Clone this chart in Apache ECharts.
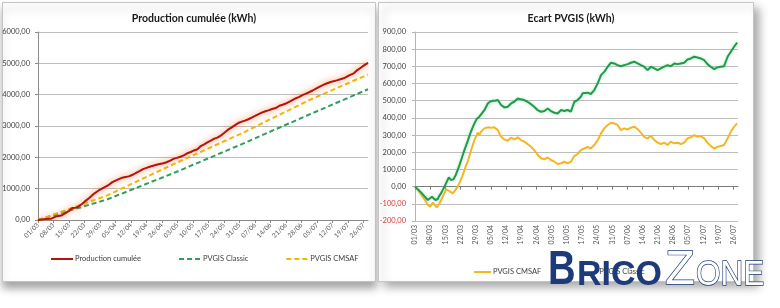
<!DOCTYPE html>
<html><head><meta charset="utf-8">
<script src="https://cdn.jsdelivr.net/npm/echarts@6/dist/echarts.min.js"></script>
<style>html,body{margin:0;padding:0;background:#fff}#c{width:780px;height:308px}</style>
</head><body><div id="c"></div>
<script>
// Day index 0 = 01/03, 149 = 28/07
const tickLabels = ['01/03','08/03','15/03','22/03','29/03','05/04','12/04','19/04','26/04','03/05','10/05','17/05','24/05','31/05','07/06','14/06','21/06','28/06','05/07','12/07','19/07','26/07'];

// Left chart: cumulative production [day, kWh]
const production = [[0,0],[3,28],[6,41],[8,110],[10.5,142],[12,203],[14,294],[15.5,383],[17,394],[18,413],[20,517],[21.3,602],[23,696],[25,825],[27.4,943],[29.7,1031],[32,1124],[33.6,1208],[36,1291],[38,1351],[40,1378],[41,1392],[43,1452],[44.3,1507],[46,1565],[47.4,1623],[49,1663],[50.4,1698],[52,1733],[53.5,1761],[55,1788],[56.6,1813],[58,1843],[59.7,1895],[61.2,1952],[62.7,1982],[64.3,2020],[65.8,2061],[67.4,2129],[69,2171],[70.4,2219],[72,2257],[73.5,2360],[75,2415],[76.5,2479],[78,2534],[79.6,2596],[81,2630],[82.7,2704],[84.3,2791],[85.8,2884],[87.3,2948],[89,3029],[90.4,3094],[92,3138],[93.4,3171],[95,3215],[96.5,3268],[98,3320],[99.6,3378],[101,3427],[102.7,3470],[104,3500],[105.7,3544],[107.3,3573],[109,3646],[110.4,3679],[112,3719],[113.4,3772],[115,3832],[116.5,3887],[118,3928],[119.6,3994],[121,4033],[122.6,4086],[124,4133],[125.7,4204],[127,4250],[128.8,4314],[130,4347],[131.8,4396],[133,4423],[134.9,4457],[136.5,4491],[138,4523],[139.5,4579],[141,4629],[142.6,4680],[144.2,4784],[145.7,4859],[147.2,4934],[149,5012]];
const pvgisClassic = [[0,0],[31,651],[61,1491],[92,2421],[122,3351],[149,4174]];
const pvgisCmsaf = [[0,0],[31,776],[61,1776],[92,2766],[122,3811],[149,4644]];

// Right chart: gap to PVGIS [day, kWh]
const ecartClassic = [[0,0],[1.5,-18],[2.9,-35],[4.4,-57],[5.9,-78],[6.5,-88],[7.8,-59],[9.4,-78],[10.5,-72],[11.3,-52],[12.2,-35],[13.6,0],[14.7,30],[15.6,54],[16.7,38],[17.7,42],[18.8,68],[19.7,97],[20.5,125],[21.3,155],[22.8,213],[24.3,265],[25.8,320],[27.4,368],[28.5,395],[29.7,407],[30.4,416],[32,445],[33.6,484],[34.7,495],[35.9,500],[37,500],[38.2,504],[39.7,475],[41.2,461],[42.8,465],[44.3,484],[45.8,494],[47.4,513],[48.9,508],[50.4,504],[51.9,494],[53.5,480],[55,465],[56.6,445],[58.1,436],[59.7,440],[61.2,455],[62.7,440],[64.3,430],[65.8,426],[67.4,446],[68.9,440],[70.4,446],[71.9,436],[73.5,494],[75,504],[76.5,523],[77.3,543],[78,533],[79.6,547],[81.1,539],[82.7,562],[84.3,601],[85.8,649],[87.3,668],[88.9,698],[90.4,721],[91.9,717],[92.6,727],[93.4,707],[95,701],[96.5,707],[98.1,713],[99.6,721],[101.1,727],[102.7,717],[104.2,707],[105.7,698],[107.3,678],[108.8,698],[110.4,688],[111.9,678],[113.4,688],[115,698],[116.5,707],[118,701],[119.6,717],[121.1,713],[122.6,717],[124.2,721],[125.7,740],[127.2,746],[128.8,756],[130.3,752],[131.8,746],[133.4,736],[134.9,713],[136.4,698],[138,684],[139.5,694],[141,698],[142.6,701],[144.2,756],[145.7,785],[147.2,814],[148.6,838]];
const ecartCmsaf = [[0,0],[1.5,-22],[2.9,-48],[4.4,-75],[5.9,-105],[7,-117],[8.2,-93],[9.2,-108],[10,-121],[11.2,-100],[12.1,-78],[13.3,-45],[14.4,-16],[15.2,-14],[15.9,-26],[17.4,-39],[18.5,-22],[19.7,0],[21,35],[22,67],[23.6,125],[24.3,145],[25.9,213],[27.4,271],[28.9,314],[29.7,300],[30.4,320],[32,339],[33.6,345],[35.1,343],[36.6,345],[38.2,329],[39.7,290],[41.2,275],[42.8,267],[44.3,285],[45.8,275],[47.4,287],[48.9,271],[50.4,262],[51.9,248],[53.5,232],[55,213],[56.6,184],[58.1,165],[59.7,159],[61.2,170],[62.7,155],[64.3,145],[65.8,132],[67.4,136],[68.9,145],[70.4,136],[71.9,145],[73.5,178],[75,190],[76.5,213],[78,222],[79.6,232],[81.1,222],[82.7,242],[84.3,271],[85.8,310],[87.3,339],[88.9,359],[90.4,372],[91.9,368],[92.6,372],[93.4,359],[95,329],[96.5,339],[98.1,333],[99.6,343],[101.1,349],[102.7,335],[104.2,314],[105.7,290],[107.3,281],[108.8,295],[110.4,271],[111.9,256],[113.4,248],[115,256],[116.5,242],[118,262],[119.6,252],[121.1,256],[122.6,248],[124.2,256],[125.7,281],[127.2,287],[128.8,300],[130.3,290],[131.8,295],[133.4,281],[134.9,256],[136.4,237],[138,222],[139.5,232],[141,237],[142.6,242],[144.2,281],[145.7,320],[147.2,349],[148.6,368]];

const tickDays = tickLabels.map((_, i) => i * 7);
const FONT = 'Lato, "Liberation Sans", sans-serif';
const fmtNum = v => Number(v).toFixed(2).replace('.', ',');
const fmtDay = v => { const i = Math.round(v / 7); return (i * 7 === Math.round(v) && tickLabels[i]) ? tickLabels[i] : ''; };
const gridColor = '#bdbdbd';
const axisColor = '#8a8a8a';
const NAVY = '#1d3b7a';
const noSymbol = {color: 'rgba(0,0,0,0)', borderWidth: 0, opacity: 0};

const chart = echarts.init(document.getElementById('c'), null, {renderer: 'canvas'});
chart.setOption({
  animation: false,
  backgroundColor: '#ffffff',
  title: [
    {text: 'Production cumulée (kWh)', left: 189, top: 8, textAlign: 'center',
     textStyle: {fontFamily: FONT, fontSize: 10.5, fontWeight: 'bold', color: '#1a1a1a'}},
    {text: 'Ecart PVGIS (kWh)', left: 566, top: 8, textAlign: 'center',
     textStyle: {fontFamily: FONT, fontSize: 10.5, fontWeight: 'bold', color: '#1a1a1a'}}
  ],
  legend: [
    {left: 45, top: 250, itemWidth: 22, itemHeight: 8, itemGap: 37, itemStyle: noSymbol,
     data: ['Production cumulée', 'PVGIS Classic', 'PVGIS CMSAF'],
     textStyle: {fontFamily: FONT, fontSize: 7.5, color: '#404040', padding: [0,0,0,-3]}},
    {left: 468, top: 263, itemWidth: 17, itemHeight: 8, itemGap: 38, itemStyle: noSymbol,
     data: ['PVGIS CMSAF\u200b', 'PVGIS Classic\u200b'],
     textStyle: {fontFamily: FONT, fontSize: 7.5, color: '#404040', padding: [0,0,0,-3]}}
  ],
  grid: [
    {left: 38, right: 412, top: 32, bottom: 88, outerBoundsMode: 'none', containLabel: false},
    {left: 415, right: 42, top: 32, bottom: 87, outerBoundsMode: 'none', containLabel: false}
  ],
  xAxis: [
    {gridIndex: 0, type: 'value', min: 0, max: 149,
     axisLine: {onZero: true, lineStyle: {color: axisColor}},
     axisTick: {customValues: tickDays, length: 3, lineStyle: {color: axisColor}},
     axisLabel: {customValues: tickDays, rotate: 45, margin: 4, fontSize: 6.5, fontFamily: FONT, color: '#595959', formatter: fmtDay},
     splitLine: {show: false}},
    {gridIndex: 1, type: 'value', min: 0, max: 149, position: 'bottom',
     axisLine: {onZero: true, lineStyle: {color: '#7a7a7a'}},
     axisTick: {customValues: tickDays, length: 3, inside: false, lineStyle: {color: '#7a7a7a'}},
     axisLabel: {show: false}, splitLine: {show: false}},
    {gridIndex: 1, type: 'value', min: 0, max: 149, position: 'bottom',
     axisLine: {show: false, onZero: false}, axisTick: {show: false},
     axisLabel: {customValues: tickDays, rotate: 90, margin: 4, fontSize: 7, fontFamily: FONT, color: '#595959', formatter: fmtDay},
     splitLine: {show: false}}
  ],
  yAxis: [
    {gridIndex: 0, type: 'value', min: 0, max: 6000, interval: 1000,
     axisLine: {show: true, lineStyle: {color: axisColor}},
     axisTick: {show: true, length: 3, lineStyle: {color: axisColor}},
     axisLabel: {margin: 8, fontSize: 7.5, fontFamily: FONT, color: '#404040', formatter: fmtNum},
     splitLine: {lineStyle: {color: gridColor, width: 1}}},
    {gridIndex: 1, type: 'value', min: -200, max: 900, interval: 100,
     axisLine: {show: true, lineStyle: {color: '#b5b5b5'}},
     axisTick: {show: true, length: 3, lineStyle: {color: '#b5b5b5'}},
     axisLabel: {margin: 9, fontSize: 7.5, fontFamily: FONT, formatter: fmtNum,
       color: v => Number(v) < 0 ? '#d43a3a' : '#404040'},
     splitLine: {lineStyle: {color: gridColor, width: 1}}}
  ],
  series: [
    {name: 'PVGIS Classic', type: 'line', xAxisIndex: 0, yAxisIndex: 0, data: pvgisClassic,
     symbol: 'none', z: 3, lineStyle: {color: '#2f9e5c', width: 2, type: [5, 3]}, itemStyle: {color: '#2f9e5c'}},
    {name: 'PVGIS CMSAF', type: 'line', xAxisIndex: 0, yAxisIndex: 0, data: pvgisCmsaf,
     symbol: 'none', z: 3, lineStyle: {color: '#f2b705', width: 2, type: [5, 3]}, itemStyle: {color: '#f2b705'}},
    {name: 'Production cumulée', type: 'line', xAxisIndex: 0, yAxisIndex: 0, data: production,
     symbol: 'none', z: 4, lineStyle: {color: '#b3140c', width: 2, shadowColor: 'rgba(255,110,40,0.9)', shadowBlur: 6},
     itemStyle: {color: '#b3140c'}},
    {name: 'PVGIS CMSAF\u200b', type: 'line', xAxisIndex: 1, yAxisIndex: 1, data: ecartCmsaf,
     symbol: 'none', lineStyle: {color: '#f5b622', width: 2}, itemStyle: {color: '#f5b622'}},
    {name: 'PVGIS Classic\u200b', type: 'line', xAxisIndex: 1, yAxisIndex: 1, data: ecartClassic,
     symbol: 'none', lineStyle: {color: '#1f9a4e', width: 2, shadowColor: 'rgba(120,220,140,0.6)', shadowBlur: 3}, itemStyle: {color: '#1f9a4e'}}
  ],
  graphic: [
    {type: 'rect', z: -10, shape: {x: 2.5, y: 2.5, width: 373, height: 279},
     style: {fill: '#fff', stroke: '#c4c4c4', lineWidth: 1, shadowBlur: 8, shadowOffsetX: 0, shadowOffsetY: 6, shadowColor: 'rgba(0,0,0,0.35)'}},
    {type: 'rect', z: -10, shape: {x: 378.5, y: 2.5, width: 375, height: 279},
     style: {fill: '#fff', stroke: '#c4c4c4', lineWidth: 1, shadowBlur: 9, shadowOffsetX: 5, shadowOffsetY: 5, shadowColor: 'rgba(0,0,0,0.35)'}},
    {type: 'text', z: 50, x: 548, y: 270, scaleX: 0.78,
     style: {text: 'B', font: 'bold 49px "Liberation Sans", sans-serif', fill: NAVY, align: 'left', verticalAlign: 'middle'}},
    {type: 'text', z: 50, x: 577, y: 275, scaleX: 0.97,
     style: {text: 'RICO', font: 'bold 35px "Liberation Sans", sans-serif', fill: NAVY, align: 'left', verticalAlign: 'middle'}},
    {type: 'text', z: 50, x: 665, y: 270, scaleX: 1,
     style: {text: 'Z', font: '49px "Liberation Sans", sans-serif', fill: '#ffffff', stroke: NAVY, lineWidth: 1.4, align: 'left', verticalAlign: 'middle'}},
    {type: 'text', z: 50, x: 696, y: 275, scaleX: 0.9,
     style: {text: 'ONE', font: '35px "Liberation Sans", sans-serif', fill: '#ffffff', stroke: NAVY, lineWidth: 1.4, align: 'left', verticalAlign: 'middle'}}
  ]
});
</script>
</body></html>
